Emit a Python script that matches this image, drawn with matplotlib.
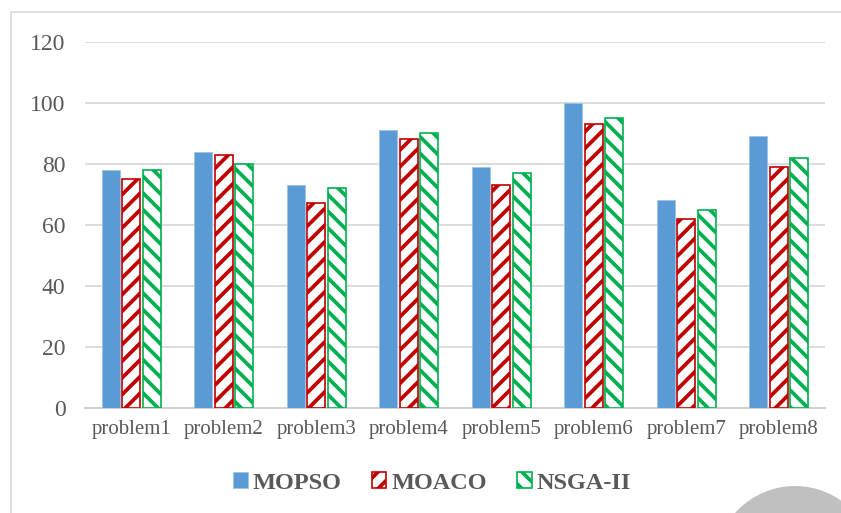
import numpy as np
import matplotlib
matplotlib.use("Agg")
import matplotlib.pyplot as plt
from matplotlib.patches import Circle, Rectangle, Patch
from matplotlib.transforms import IdentityTransform

categories = ["problem1", "problem2", "problem3", "problem4",
              "problem5", "problem6", "problem7", "problem8"]
series_names = ["MOPSO", "MOACO", "NSGA-II"]
mopso = [78, 84, 73, 91, 79, 100, 68, 89]
moaco = [75, 83, 67, 88, 73, 93, 62, 79]
nsga2 = [78, 80, 72, 90, 77, 95, 65, 82]
y_ticks = [0, 20, 40, 60, 80, 100, 120]

plt.rcParams["hatch.linewidth"] = 2.7
serif = ["Liberation Serif", "DejaVu Serif"]
text_gray = "#595959"

fig = plt.figure(figsize=(8.41, 5.13), dpi=100)
ax = fig.add_axes([85 / 841, 1 - 407.5 / 513, 740 / 841, 365.5 / 513])

x = np.arange(len(categories))
bw = 0.195
step = 0.222

ax.bar(x - step, mopso, bw, color="#5B9BD5", edgecolor="#9DC3E6",
       linewidth=0.6, zorder=3)
ax.bar(x, moaco, bw, color="white", edgecolor="#C00000", hatch="//",
       linewidth=1.2, zorder=3)
ax.bar(x + step, nsga2, bw, color="white", edgecolor="#00B050", hatch="\\\\",
       linewidth=1.2, zorder=3)

ax.set_xlim(-0.5, len(categories) - 0.5)
ax.set_ylim(0, 120)
ax.set_yticks(y_ticks)
ax.set_xticks(x)
ax.set_xticklabels(categories)
ax.yaxis.grid(True, color="#d9d9d9", linewidth=1.3, zorder=0)
ax.set_axisbelow(True)
for s in ["top", "right", "left"]:
    ax.spines[s].set_visible(False)
ax.spines["bottom"].set_color("#d0d0d0")
ax.spines["bottom"].set_linewidth(1.5)
ax.tick_params(axis="y", length=0, pad=14, labelsize=17, labelcolor=text_gray)
ax.tick_params(axis="x", length=0, pad=9, labelsize=15, labelcolor=text_gray)
for lab in ax.get_xticklabels() + ax.get_yticklabels():
    lab.set_family(serif)

handles = [
    Patch(facecolor="#5B9BD5", edgecolor="#9DC3E6", linewidth=0.6),
    Patch(facecolor="white", edgecolor="#C00000", hatch="//", linewidth=1.2),
    Patch(facecolor="white", edgecolor="#00B050", hatch="\\\\", linewidth=1.2),
]
leg = fig.legend(handles, series_names, loc="center",
                 bbox_to_anchor=(432 / 841, 1 - 483 / 513), ncol=3,
                 frameon=False, handlelength=0.6, handleheight=0.6,
                 handletextpad=0.2, columnspacing=1.25,
                 prop={"family": serif, "weight": "bold", "size": 17.5})
for t in leg.get_texts():
    t.set_color(text_gray)

# chart-area border
fig.add_artist(Rectangle((11, -20), 900, 513 - 12 + 20, fill=False,
                         edgecolor="#d9d9d9", linewidth=1.2,
                         transform=IdentityTransform()))
# gray disc in the lower right corner
fig.add_artist(Circle((795, 513 - 566), 80, facecolor="#c0c0c0",
                      edgecolor="none", transform=IdentityTransform()))

fig.savefig("out.png", dpi=100)
